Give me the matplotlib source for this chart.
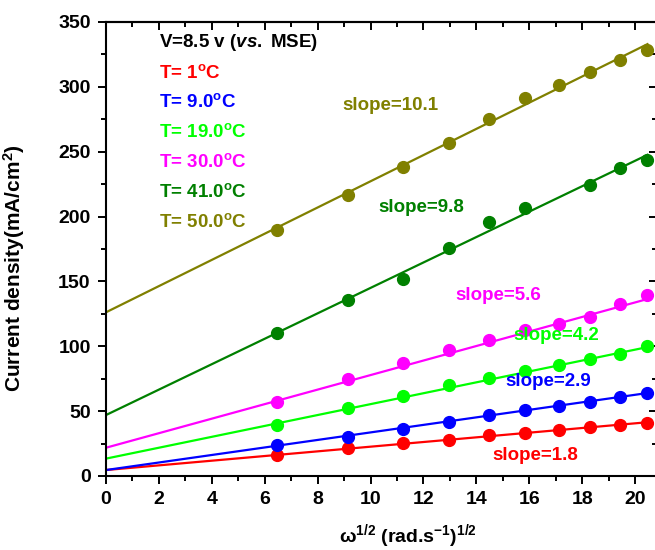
import numpy as np
import matplotlib
matplotlib.use('Agg')
import matplotlib.pyplot as plt
from matplotlib.ticker import MultipleLocator

plt.rcParams['font.family'] = 'Liberation Sans'
plt.rcParams['font.weight'] = 'bold'
plt.rcParams['axes.labelweight'] = 'bold'
plt.rcParams['mathtext.fontset'] = 'custom'
plt.rcParams['mathtext.rm'] = 'Liberation Sans:bold'
plt.rcParams['mathtext.it'] = 'Liberation Sans:bold:italic'
plt.rcParams['mathtext.bf'] = 'Liberation Sans:bold'
plt.rcParams['mathtext.default'] = 'rm'

# sqrt of rotation rate, (rad/s)^1/2
w = [6.47, 9.15, 11.21, 12.95, 14.47, 15.85, 17.12, 18.31, 19.42, 20.47]

j_1C = [16.2, 21.3, 25.2, 27.8, 31.6, 33.4, 35.5, 38.0, 39.3, 40.6]
j_9C = [23.9, 30.3, 36.2, 41.9, 47.3, 50.9, 54.0, 57.3, 60.7, 63.8]
j_19C = [39.3, 52.4, 61.7, 69.9, 75.3, 81.2, 85.3, 90.2, 94.1, 100.5]
j_30C = [57.3, 74.5, 86.9, 97.1, 104.9, 112.6, 117.2, 122.8, 132.6, 139.6]
j_41C = [110.0, 135.5, 152.0, 176.0, 195.6, 206.9, np.nan, 224.4, 237.7, 243.6]
j_50C = [189.7, 216.4, 238.5, 256.5, 275.3, 291.7, 301.5, 311.2, 320.5, 328.5]

# linear fits
intercepts = [4.6, 4.6, 13.4, 21.8, 47.0, 126.2]
slopes = [1.8, 2.9, 4.2, 5.6, 9.8, 10.1]

temps = ['1', '9.0', '19.0', '30.0', '41.0', '50.0']
colors = ['#ff0000', '#0000ff', '#00ff00', '#ff00ff', '#008000', '#808000']
series = [j_1C, j_9C, j_19C, j_30C, j_41C, j_50C]

# slope label anchors (left edge, centre)
slope_pos = [(14.6, 16), (15.1, 73), (15.4, 108), (13.2, 139), (10.3, 207), (8.95, 286)]

fig = plt.figure(figsize=(6.55, 5.5), dpi=100)
ax = fig.add_axes([106/655, 1-476/550, 551/655, 454/550])

xfit = np.array([0, 20.47])
for y, b, m, c in zip(series, intercepts, slopes, colors):
    ax.plot(xfit, b + m*xfit, color=c, lw=1.6, zorder=2)
    ax.plot(w, y, 'o', color=c, ms=8.5, zorder=3)

for (px, py), m, c in zip(slope_pos, slopes, colors):
    ax.text(px, py, f'slope={m}', color=c, fontsize=13.5, fontweight='bold',
            va='center', ha='left')

ax.text(2.0, 334, 'V=8.5 v ($\\it{vs.}$ MSE)', color='black', fontsize=13.5,
        va='center', ha='left')
for i, (t, c) in enumerate(zip(temps, colors)):
    ax.text(2.0, 311 - 23.0*i, f'T= {t}$^{{\\mathrm{{o}}}}$C', color=c,
            fontsize=13.5, va='center', ha='left')

ax.set_xlim(0, 20.83)
ax.set_ylim(0, 350)
ax.xaxis.set_major_locator(MultipleLocator(2))
ax.xaxis.set_minor_locator(MultipleLocator(1))
ax.yaxis.set_major_locator(MultipleLocator(50))
ax.yaxis.set_minor_locator(MultipleLocator(25))
ax.tick_params(which='major', direction='out', length=6, width=1.4, labelsize=14, pad=5)
ax.tick_params(which='minor', direction='out', length=3.5, width=1.4)
for s in ax.spines.values():
    s.set_linewidth(1.5)

top = ax.secondary_xaxis('top')
top.xaxis.set_major_locator(MultipleLocator(2))
top.xaxis.set_minor_locator(MultipleLocator(1))
top.tick_params(which='major', direction='in', length=6, width=1.4, labeltop=False)
top.tick_params(which='minor', direction='in', length=3.5, width=1.4)
top.spines['top'].set_linewidth(1.5)

right = ax.secondary_yaxis('right')
right.yaxis.set_major_locator(MultipleLocator(50))
right.yaxis.set_minor_locator(MultipleLocator(25))
right.tick_params(which='major', direction='in', length=6, width=1.4, labelright=False)
right.tick_params(which='minor', direction='in', length=3.5, width=1.4)
right.spines['right'].set_linewidth(1.5)

for lab in ax.get_xticklabels() + ax.get_yticklabels():
    lab.set_fontweight('bold')

ax.set_xlabel('$\\omega^{1/2}$ (rad.s$^{-1}$)$^{1/2}$', fontsize=14, fontweight='bold')
ax.set_ylabel('Current density(mA/cm$^{2}$)', fontsize=15, fontweight='bold')
ax.xaxis.set_label_coords((408-106)/551, -(522-476)/454)
ax.yaxis.set_label_coords(-(106-27)/551, (476-268)/454)

fig.savefig('out.png', dpi=100)
